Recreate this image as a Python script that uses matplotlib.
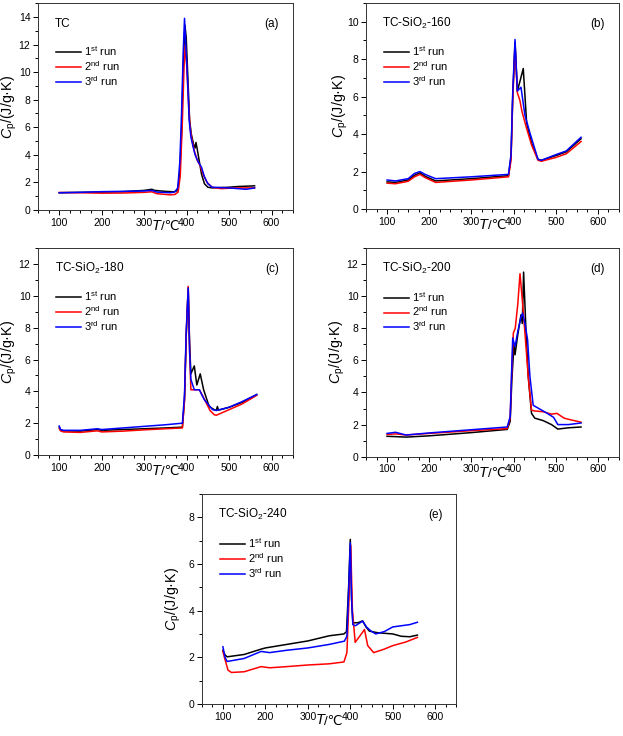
import matplotlib
matplotlib.use("Agg")
import matplotlib.pyplot as plt
from matplotlib.ticker import MultipleLocator
from matplotlib.offsetbox import TextArea, HPacker, AnchoredOffsetbox

plt.rcParams['font.family'] = ['Liberation Sans', 'DejaVu Sans']
plt.rcParams['mathtext.fontset'] = 'custom'
plt.rcParams['mathtext.rm'] = 'Liberation Sans'
plt.rcParams['mathtext.it'] = 'Liberation Sans:italic'

# ---------- (a) TC ----------
a_T1 = [100, 150, 200, 250, 300, 318, 325, 350, 370, 378, 383, 388, 392, 396, 399, 403, 407, 411, 416, 420, 422, 425, 430, 435, 442, 450, 460, 500, 520, 560]
a_C1 = [1.25, 1.28, 1.30, 1.33, 1.42, 1.50, 1.42, 1.35, 1.32, 1.40, 2.3, 5.5, 10.5, 13.4, 12.5, 9.5, 6.5, 5.5, 4.8, 4.5, 4.9, 4.4, 3.5, 2.6, 1.9, 1.65, 1.6, 1.65, 1.7, 1.75]
a_T2 = [100, 150, 200, 250, 300, 318, 330, 360, 372, 380, 385, 390, 394, 397, 400, 404, 408, 413, 418, 425, 432, 440, 448, 460, 480, 520, 560]
a_C2 = [1.27, 1.25, 1.22, 1.23, 1.28, 1.32, 1.18, 1.10, 1.12, 1.30, 2.5, 6.5, 10.5, 12.0, 10.5, 8.0, 6.0, 5.0, 4.3, 3.6, 3.2, 2.5, 2.0, 1.65, 1.55, 1.6, 1.6]
a_T3 = [100, 150, 200, 250, 300, 318, 330, 360, 372, 379, 384, 388, 392, 395, 398, 402, 406, 410, 415, 420, 427, 435, 442, 450, 460, 500, 540, 560]
a_C3 = [1.25, 1.28, 1.33, 1.35, 1.38, 1.42, 1.30, 1.25, 1.30, 1.6, 3.5, 7.0, 11.5, 13.9, 12.0, 9.5, 6.5, 5.3, 4.6, 4.0, 3.5, 3.1, 2.4, 1.9, 1.65, 1.6, 1.5, 1.6]

# ---------- (b) TC-SiO2-160 ----------
b_T1 = [100, 120, 150, 165, 178, 190, 215, 300, 388, 394, 398, 403.5, 409, 415, 423, 431, 443, 458, 466, 500, 525, 560]
b_C1 = [1.45, 1.42, 1.55, 1.80, 1.93, 1.75, 1.50, 1.62, 1.78, 2.8, 6.0, 8.9, 6.3, 6.8, 7.5, 4.6, 3.5, 2.65, 2.6, 2.85, 3.05, 3.75]
b_T2 = [100, 120, 150, 165, 178, 190, 215, 300, 388, 394, 398, 403.5, 409, 415, 420, 431, 443, 458, 466, 500, 525, 560]
b_C2 = [1.38, 1.35, 1.48, 1.72, 1.85, 1.68, 1.42, 1.55, 1.72, 2.6, 5.8, 8.7, 6.2, 5.8, 5.2, 4.3, 3.4, 2.6, 2.55, 2.75, 2.95, 3.6]
b_T3 = [100, 120, 150, 165, 178, 190, 215, 300, 388, 394, 398, 403.5, 409, 417.6, 427, 439, 458, 466, 500, 525, 560]
b_C3 = [1.55, 1.50, 1.62, 1.90, 2.00, 1.85, 1.62, 1.72, 1.85, 2.9, 6.2, 9.05, 6.3, 6.5, 5.0, 4.05, 2.65, 2.6, 2.9, 3.1, 3.83]

# ---------- (c) TC-SiO2-180 ----------
c_T1 = [100, 103, 110, 150, 190, 200, 250, 300, 350, 390, 395, 399, 403.7, 407, 410, 418, 424, 432, 440, 453, 465, 470, 472.4, 475, 480, 500, 530, 565]
c_C1 = [1.75, 1.6, 1.52, 1.5, 1.6, 1.55, 1.6, 1.65, 1.7, 1.75, 3.5, 7.5, 10.5, 7.0, 5.1, 5.6, 4.4, 5.1, 4.1, 3.05, 2.85, 2.8, 3.05, 2.82, 2.85, 3.0, 3.3, 3.8]
c_T2 = [100, 103, 110, 150, 190, 200, 250, 300, 350, 390, 395, 399, 403.7, 407, 410, 418, 430, 440, 455, 465, 470, 500, 530, 565]
c_C2 = [1.65, 1.52, 1.45, 1.42, 1.52, 1.45, 1.5, 1.58, 1.65, 1.70, 3.4, 7.5, 10.6, 6.5, 4.1, 4.1, 4.1, 3.6, 2.8, 2.53, 2.5, 2.85, 3.2, 3.75]
c_T3 = [100, 103, 110, 150, 190, 200, 250, 300, 350, 390, 395, 399, 403.7, 407, 410, 418, 430, 441, 461, 470, 500, 530, 565]
c_C3 = [1.82, 1.6, 1.55, 1.55, 1.65, 1.6, 1.7, 1.8, 1.9, 2.0, 3.8, 7.8, 10.5, 6.5, 4.75, 4.1, 4.1, 3.5, 2.85, 2.8, 3.0, 3.35, 3.8]

# ---------- (d) TC-SiO2-200 ----------
d_T1 = [100, 120, 145, 200, 300, 385, 392, 396, 401, 403.5, 410, 417.6, 420.7, 423.8, 429.4, 434.8, 442.6, 450.4, 470, 490, 505, 530, 560]
d_C1 = [1.27, 1.25, 1.22, 1.30, 1.50, 1.70, 2.2, 4.8, 7.0, 6.35, 7.6, 8.84, 8.3, 11.5, 7.9, 5.0, 2.7, 2.4, 2.25, 2.0, 1.72, 1.8, 1.85]
d_T2 = [100, 120, 145, 200, 300, 385, 392, 396, 399.5, 404, 410, 415.3, 420, 427, 434.8, 442.6, 450, 470, 490, 503, 520, 535, 560]
d_C2 = [1.38, 1.42, 1.35, 1.45, 1.62, 1.75, 2.4, 5.5, 7.7, 8.0, 9.5, 11.4, 10.0, 7.7, 5.0, 2.9, 2.85, 2.8, 2.65, 2.7, 2.4, 2.3, 2.15]
d_T3 = [100, 120, 145, 200, 300, 385, 392, 395, 398, 403.5, 410, 417.6, 421.4, 427, 433.2, 438.8, 446.6, 460, 480, 495, 505, 530, 560]
d_C3 = [1.45, 1.52, 1.35, 1.48, 1.68, 1.85, 2.5, 5.0, 7.4, 6.86, 7.8, 8.7, 8.94, 8.3, 7.3, 5.0, 3.2, 3.0, 2.7, 2.45, 2.0, 2.0, 2.1]

# ---------- (e) TC-SiO2-240 ----------
e_T1 = [100, 105, 110, 150, 190, 200, 250, 300, 350, 385, 391, 396, 400, 403, 406, 418, 429, 437, 445, 465, 500, 520, 540, 558]
e_C1 = [2.3, 2.1, 2.02, 2.12, 2.35, 2.4, 2.55, 2.7, 2.92, 3.0, 3.1, 5.0, 7.05, 4.5, 3.48, 3.48, 3.56, 3.3, 3.12, 3.05, 3.0, 2.9, 2.88, 2.95]
e_T2 = [100, 105, 112, 120, 150, 190, 210, 250, 300, 350, 385, 392, 397, 401, 405, 411.5, 420, 428, 433.4, 441, 455, 480, 500, 530, 558]
e_C2 = [2.25, 1.9, 1.45, 1.35, 1.38, 1.6, 1.55, 1.6, 1.67, 1.72, 1.8, 2.2, 4.5, 6.8, 4.0, 2.64, 2.85, 3.05, 3.19, 2.5, 2.2, 2.35, 2.5, 2.65, 2.85]
e_T3 = [100, 105, 110, 150, 190, 210, 250, 300, 350, 386, 392, 396, 400, 403, 406, 412, 429, 438, 449, 460, 480, 500, 520, 540, 558]
e_C3 = [2.45, 2.0, 1.82, 1.95, 2.25, 2.2, 2.3, 2.4, 2.55, 2.69, 2.9, 4.8, 6.9, 4.5, 3.4, 3.35, 3.55, 3.3, 3.12, 3.0, 3.1, 3.3, 3.35, 3.4, 3.5]

# name, tag, runs, ymax, axes rect, ylabel x (axes coords)
panels = [
    ("TC", "(a)", [(a_T1, a_C1), (a_T2, a_C2), (a_T3, a_C3)], 15, [0.061, 0.7147, 0.409, 0.281], -0.075),
    ("TC-SiO$_2$-160", "(b)", [(b_T1, b_C1), (b_T2, b_C2), (b_T3, b_C3)], 11, [0.5875, 0.716, 0.406, 0.280], -0.065),
    ("TC-SiO$_2$-180", "(c)", [(c_T1, c_C1), (c_T2, c_C2), (c_T3, c_C3)], 13, [0.061, 0.3818, 0.409, 0.281], -0.075),
    ("TC-SiO$_2$-200", "(d)", [(d_T1, d_C1), (d_T2, d_C2), (d_T3, d_C3)], 13, [0.5875, 0.3795, 0.406, 0.2835], -0.077),
    ("TC-SiO$_2$-240", "(e)", [(e_T1, e_C1), (e_T2, e_C2), (e_T3, e_C3)], 9, [0.3237, 0.0435, 0.409, 0.2855], -0.075),
]

run_labels = ["1$^{\\rm st}$ run", "2$^{\\rm nd}$ run", "3$^{\\rm rd}$ run"]
run_colors = ["black", "red", "blue"]

fig = plt.figure(figsize=(6.23, 7.36), dpi=100)

for name, tag, runs, ytop, pos, ylx in panels:
    ax = fig.add_axes(pos)
    for (T, C), lab, col in zip(runs, run_labels, run_colors):
        ax.plot(T, C, color=col, lw=1.1, label=lab)
    ax.set_xlim(50, 650)
    ax.set_ylim(0, ytop)
    ax.set_xticks(range(100, 700, 100))
    ax.xaxis.set_minor_locator(MultipleLocator(25))
    ax.yaxis.set_major_locator(MultipleLocator(2))
    ax.yaxis.set_minor_locator(MultipleLocator(1))
    ax.tick_params(which="both", direction="out", top=False, right=False, labelsize=7.5, width=0.7)
    ax.tick_params(which="major", length=3.5, pad=2)
    ax.tick_params(which="minor", length=2)
    for s in ax.spines.values():
        s.set_linewidth(0.7)
        s.set_color("#333333")

    # x label "T/℃" with italic T (plain text so the ℃ glyph falls back to DejaVu)
    xl = HPacker(children=[TextArea("T", textprops=dict(fontsize=10.5, style="italic")),
                           TextArea("/℃", textprops=dict(fontsize=9.5))],
                 align="baseline", pad=0, sep=0)
    ax.add_artist(AnchoredOffsetbox(loc="upper center", child=xl, pad=0, borderpad=0, frameon=False,
                                    bbox_to_anchor=(0.5, -0.045), bbox_transform=ax.transAxes))

    ax.set_ylabel("$C_{\\rm p}$/(J/g·K)", fontsize=10.3)
    ax.yaxis.set_label_coords(ylx, 0.5)
    ax.text(0.065, 0.90, name, transform=ax.transAxes, fontsize=8.5, va="center", ha="left")
    ax.text(0.945, 0.90, tag, transform=ax.transAxes, fontsize=8.5, va="center", ha="right")
    ax.legend(loc="upper left", bbox_to_anchor=(0.07, 0.80), frameon=False, fontsize=8,
              handlelength=2.3, handletextpad=0.25, labelspacing=0.1, borderpad=0, borderaxespad=0)

fig.savefig("out.png", dpi=100)
